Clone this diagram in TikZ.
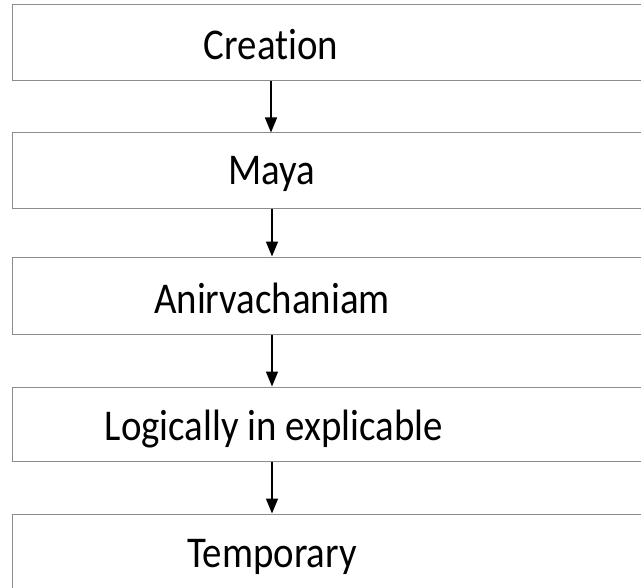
\documentclass[tikz,border=0pt]{standalone}
\usepackage{fontspec}
\setmainfont{Carlito}[Ligatures=NoCommon]
\usetikzlibrary{arrows.meta}
\newcommand{\lbltext}[1]{\scalebox{1}[1.13]{#1}}
\begin{document}
\begin{tikzpicture}[x=1bp,y=-1bp,
  boxshape/.style={draw=black!45,line width=1bp,rectangle,inner sep=0pt},
  lbl/.style={font=\fontsize{39}{46}\selectfont,inner sep=0pt,anchor=base},
  arr/.style={-{Triangle[length=15bp,width=12bp]},line width=1.5bp,black}]
\useasboundingbox (0,0) rectangle (641,588);
\clip (0,0) rectangle (641,588);
\fill[white] (0,0) rectangle (641,588);
% boxes as named nodes (extend beyond the right edge)
\node[boxshape,minimum width=700bp,minimum height=76bp] (b1) at (362.5,43) {};
\node[boxshape,minimum width=700bp,minimum height=75bp] (b2) at (362.5,170.5) {};
\node[boxshape,minimum width=700bp,minimum height=77bp] (b3) at (362.5,295.5) {};
\node[boxshape,minimum width=700bp,minimum height=74bp] (b4) at (362.5,424) {};
\node[boxshape,minimum width=700bp,minimum height=150bp] (b5) at (363,589) {};
% labels
\node[lbl] (t1) at (271,60) {\lbltext{Creation}};
\node[lbl] (t2) at (272,185) {\lbltext{Maya}};
\node[lbl] (t3) at (272,313) {\lbltext{Anirvachaniam}};
\node[lbl] (t4) at (274,440) {\lbltext{Logically in explicable}};
\node[lbl] (t5) at (272,567) {\lbltext{Temporary}};
% connectors
\draw[arr] (b1.south -| t1) -- (b2.north -| t1);
\draw[arr] (b2.south -| t2) -- (b3.north -| t2);
\draw[arr] (b3.south -| t3) -- (b4.north -| t3);
\draw[arr] (b4.south -| t5) -- (b5.north -| t5);
\end{tikzpicture}
\end{document}
